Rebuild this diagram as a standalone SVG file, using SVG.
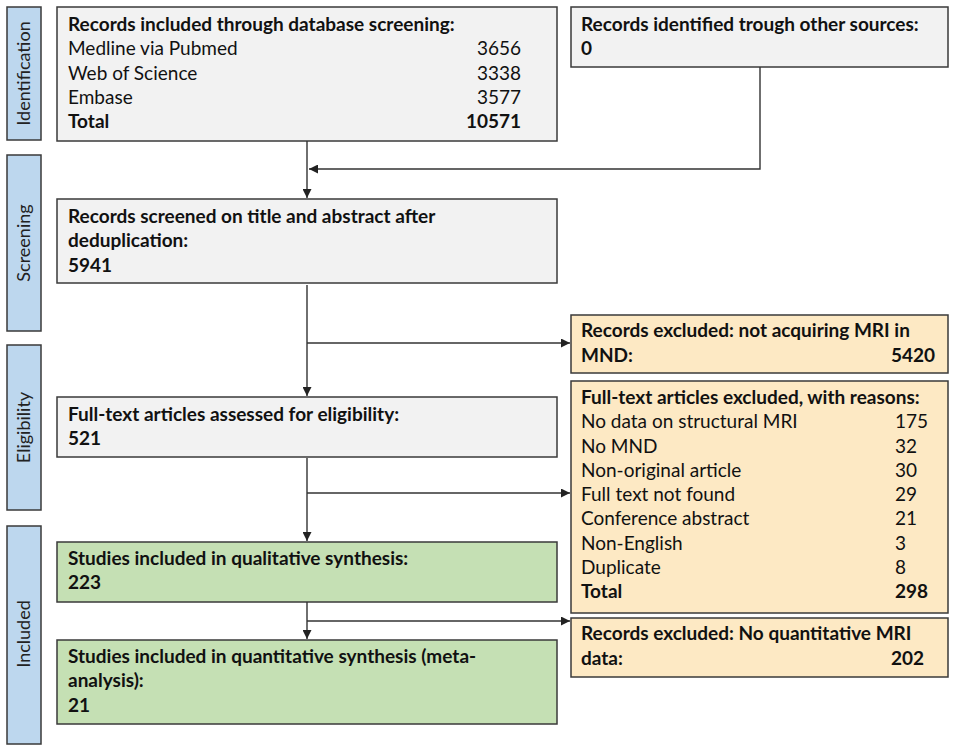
<svg xmlns="http://www.w3.org/2000/svg" width="957" height="749" viewBox="0 0 957 749">
<style>
.t{font-family:Lato,"Liberation Sans",sans-serif;font-size:19px;fill:#111}
.b{font-weight:bold}
.e{text-anchor:end}
.side{fill:#bdd7ee;stroke:#3a3a3a;stroke-width:1.5}
.sl{font-family:Lato,"Liberation Sans",sans-serif;font-size:18px;fill:#222;text-anchor:middle}
.gray{fill:#f2f2f2;stroke:#3a3a3a;stroke-width:1.5}
.orn{fill:#fde9c4;stroke:#3a3a3a;stroke-width:1.5}
.grn{fill:#c5e0b4;stroke:#3a3a3a;stroke-width:1.5}
.c{fill:none;stroke:#333;stroke-width:1.4}
</style>
<defs>
<marker id="ah" viewBox="0 0 10 10" refX="10" refY="5" markerWidth="9" markerHeight="9" markerUnits="userSpaceOnUse" orient="auto">
<path d="M0,0 L10,5 L0,10 z" fill="#222"/>
</marker>
</defs>
<rect width="957" height="749" fill="#fff"/>
<g id="side-identification"><rect class="side" x="7" y="7" width="34" height="133"/><text class="sl" transform="translate(30,73.5) rotate(-90)">Identification</text></g>
<g id="side-screening"><rect class="side" x="7" y="155" width="34" height="176"/><text class="sl" transform="translate(30,243) rotate(-90)">Screening</text></g>
<g id="side-eligibility"><rect class="side" x="7" y="345" width="34" height="165"/><text class="sl" transform="translate(30,427.5) rotate(-90)">Eligibility</text></g>
<g id="side-included"><rect class="side" x="7" y="526" width="34" height="218"/><text class="sl" transform="translate(30,634) rotate(-90)">Included</text></g>

<g id="db-records"><rect class="gray" x="57" y="7" width="500" height="134"/>
<text class="t b" x="68" y="31">Records included through database screening:</text>
<text class="t" x="68" y="55">Medline via Pubmed</text><text class="t e" x="521" y="55">3656</text>
<text class="t" x="68" y="79.5">Web of Science</text><text class="t e" x="521" y="79.5">3338</text>
<text class="t" x="68" y="104">Embase</text><text class="t e" x="521" y="104">3577</text>
<text class="t b" x="68" y="128">Total</text><text class="t b e" x="521" y="128">10571</text>
</g>
<g id="other-sources"><rect class="gray" x="571" y="7" width="377" height="60"/>
<text class="t b" x="581" y="31">Records identified trough other sources:</text>
<text class="t b" x="581" y="55">0</text>
</g>
<g id="screened"><rect class="gray" x="57" y="199" width="500" height="84"/>
<text class="t b" x="68" y="223">Records screened on title and abstract after</text>
<text class="t b" x="68" y="247">deduplication:</text>
<text class="t b" x="68" y="272">5941</text>
</g>
<g id="excluded-mri"><rect class="orn" x="571" y="315" width="377" height="58"/>
<text class="t b" x="581" y="337">Records excluded: not acquiring MRI in</text>
<text class="t b" x="581" y="362">MND:</text><text class="t b e" x="935" y="362">5420</text>
</g>
<g id="fulltext"><rect class="gray" x="57" y="397" width="500" height="60"/>
<text class="t b" x="68" y="421">Full-text articles assessed for eligibility:</text>
<text class="t b" x="68" y="445">521</text>
</g>
<g id="excluded-reasons"><rect class="orn" x="571" y="381" width="377" height="232"/>
<text class="t b" x="581" y="404">Full-text articles excluded, with reasons:</text>
<text class="t" x="581" y="428.3">No data on structural MRI</text><text class="t" x="895" y="428.3">175</text>
<text class="t" x="581" y="452.5">No MND</text><text class="t" x="895" y="452.5">32</text>
<text class="t" x="581" y="476.8">Non-original article</text><text class="t" x="895" y="476.8">30</text>
<text class="t" x="581" y="501">Full text not found</text><text class="t" x="895" y="501">29</text>
<text class="t" x="581" y="525.3">Conference abstract</text><text class="t" x="895" y="525.3">21</text>
<text class="t" x="581" y="549.5">Non-English</text><text class="t" x="895" y="549.5">3</text>
<text class="t" x="581" y="573.8">Duplicate</text><text class="t" x="895" y="573.8">8</text>
<text class="t b" x="581" y="598">Total</text><text class="t b" x="895" y="598">298</text>
</g>
<g id="qualitative"><rect class="grn" x="57" y="542" width="500" height="60"/>
<text class="t b" x="68" y="565">Studies included in qualitative synthesis:</text>
<text class="t b" x="68" y="589">223</text>
</g>
<g id="excluded-quant"><rect class="orn" x="571" y="618" width="377" height="59"/>
<text class="t b" x="581" y="640">Records excluded: No quantitative MRI</text>
<text class="t b" x="581" y="665">data:</text><text class="t b e" x="924" y="665">202</text>
</g>
<g id="quantitative"><rect class="grn" x="57" y="640" width="500" height="84"/>
<text class="t b" x="68" y="663">Studies included in quantitative synthesis (meta-</text>
<text class="t b" x="68" y="687">analysis):</text>
<text class="t b" x="68" y="712">21</text>
</g>

<g id="connectors">
<path class="c" d="M307,141 V198" marker-end="url(#ah)"/>
<path class="c" d="M760,67 V169 H309" marker-end="url(#ah)"/>
<path class="c" d="M307,285 V396" marker-end="url(#ah)"/>
<path class="c" d="M307,343 H570" marker-end="url(#ah)"/>
<path class="c" d="M307,458 V541" marker-end="url(#ah)"/>
<path class="c" d="M307,493 H570" marker-end="url(#ah)"/>
<path class="c" d="M307,602 V639" marker-end="url(#ah)"/>
<path class="c" d="M307,621 H570" marker-end="url(#ah)"/>
</g>
</svg>
